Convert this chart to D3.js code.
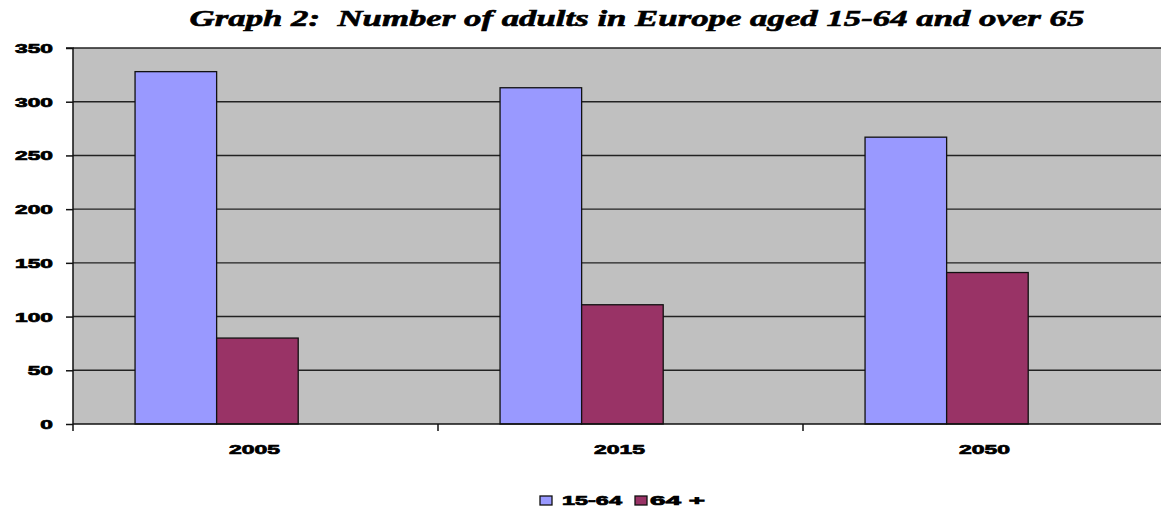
<!DOCTYPE html>
<html><head><meta charset="utf-8">
<script src="https://cdn.jsdelivr.net/npm/d3@7"></script>
<style>body{margin:0;background:#fff}svg{display:block}text{white-space:pre}</style>
</head><body>
<svg id="c" width="1161" height="509"></svg>
<script>
const categories = ["2005", "2015", "2050"];
const seriesNames = ["15-64", "64 +"];
const values1564 = [328, 313, 267];
const values65 = [80, 111, 141];
const yTicks = [0, 50, 100, 150, 200, 250, 300, 350];
const colors = ["#9999ff", "#993366"];
const title = "Graph 2:  Number of adults in Europe aged 15-64 and over 65";

const svg = d3.select("#c");
const L = 73, R = 1168, T = 48, B = 424;
const x = d3.scaleBand().domain(categories).range([L, R]).padding(0);
const y = d3.scaleLinear().domain([0, 350]).range([B, T]);
const bw = x.bandwidth();
const groupOff = bw * 0.17, groupW = bw * 0.447;
const xs = d3.scaleBand().domain(seriesNames).range([0, groupW]).padding(0);

const SANS = "'Liberation Sans', Arial, sans-serif";
// horizontal stretch around the text's anchor x
function stretchText(sel, s) {
  sel.each(function () {
    const ax = +d3.select(this).attr("x") || 0;
    d3.select(this).attr("transform", `translate(${ax},0) scale(${s},1) translate(${-ax},0)`);
  });
}
function heavy(sel, w) { sel.attr("stroke", "#000").attr("stroke-width", w).attr("paint-order", "stroke"); }

// plot background
svg.append("rect").attr("x", L).attr("y", T).attr("width", R - L).attr("height", B - T).attr("fill", "#c0c0c0");

// gridlines
svg.append("g").selectAll("line").data(yTicks.filter(d => d > 0)).join("line")
  .attr("x1", L).attr("x2", R).attr("y1", d => y(d)).attr("y2", d => y(d))
  .attr("stroke", "#222").attr("stroke-width", 1.4);

// bars
const data = categories.map((c, i) => ({ c, vals: [values1564[i], values65[i]] }));
const g = svg.append("g");
data.forEach(d => {
  d.vals.forEach((v, j) => {
    g.append("rect")
      .attr("x", x(d.c) + groupOff + xs(seriesNames[j]))
      .attr("y", y(v))
      .attr("width", xs.bandwidth())
      .attr("height", y(0) - y(v))
      .attr("fill", colors[j]).attr("stroke", "#111").attr("stroke-width", 1.3);
  });
});

// y axis
const yAxis = d3.axisLeft(y).tickValues(yTicks).tickSize(7).tickPadding(13);
const ya = svg.append("g").attr("transform", `translate(${L},0)`).call(yAxis);
ya.select(".domain").attr("stroke", "#111").attr("stroke-width", 1.5).attr("d", `M-7,${T}H0V${B}`);
ya.selectAll(".tick line").attr("stroke", "#111").attr("stroke-width", 1.5);
ya.selectAll("text").attr("font-family", SANS).attr("font-weight", "bold")
  .attr("font-size", 13).attr("fill", "#000").attr("dy", "0.35em").call(heavy, 0.7).call(stretchText, 1.75);

// x axis
const xa = svg.append("g").attr("transform", `translate(0,${B})`);
xa.append("line").attr("x1", L).attr("x2", R).attr("y1", 0).attr("y2", 0).attr("stroke", "#111").attr("stroke-width", 1.5);
xa.selectAll("line.tk").data(categories.concat(["end"])).join("line").attr("class", "tk")
  .attr("x1", (d, i) => L + i * bw).attr("x2", (d, i) => L + i * bw).attr("y1", 0).attr("y2", 7)
  .attr("stroke", "#111").attr("stroke-width", 1.5);
xa.selectAll("text").data(categories).join("text")
  .attr("x", d => x(d) + bw / 2 - 1).attr("y", 30)
  .attr("text-anchor", "middle")
  .attr("font-family", SANS).attr("font-weight", "bold")
  .attr("font-size", 13.5).attr("fill", "#000").text(d => d).call(heavy, 0.7).call(stretchText, 1.7);

// title
const tt = svg.append("text").attr("x", 637).attr("y", 26).attr("text-anchor", "middle")
  .attr("font-family", "'Liberation Serif', 'Times New Roman', serif").attr("font-weight", "bold").attr("font-style", "italic")
  .attr("font-size", 23).attr("fill", "#000").text(title).call(heavy, 0.6);
const tw = tt.node().getComputedTextLength();
tt.call(stretchText, 895 / tw);

// legend
const legX = [540, 635], legTX = [562, 650], legW = [60, 55];
const lg = svg.append("g");
seriesNames.forEach((s, i) => {
  lg.append("rect").attr("x", legX[i]).attr("y", 496).attr("width", 12).attr("height", 9)
    .attr("fill", colors[i]).attr("stroke", "#111").attr("stroke-width", 1.3);
  const t = lg.append("text").attr("x", legTX[i]).attr("y", 505.5)
    .attr("font-family", SANS).attr("font-weight", "bold")
    .attr("font-size", 13).attr("fill", "#000").text(s).call(heavy, 0.7);
  t.call(stretchText, legW[i] / t.node().getComputedTextLength());
});
</script>
</body></html>
